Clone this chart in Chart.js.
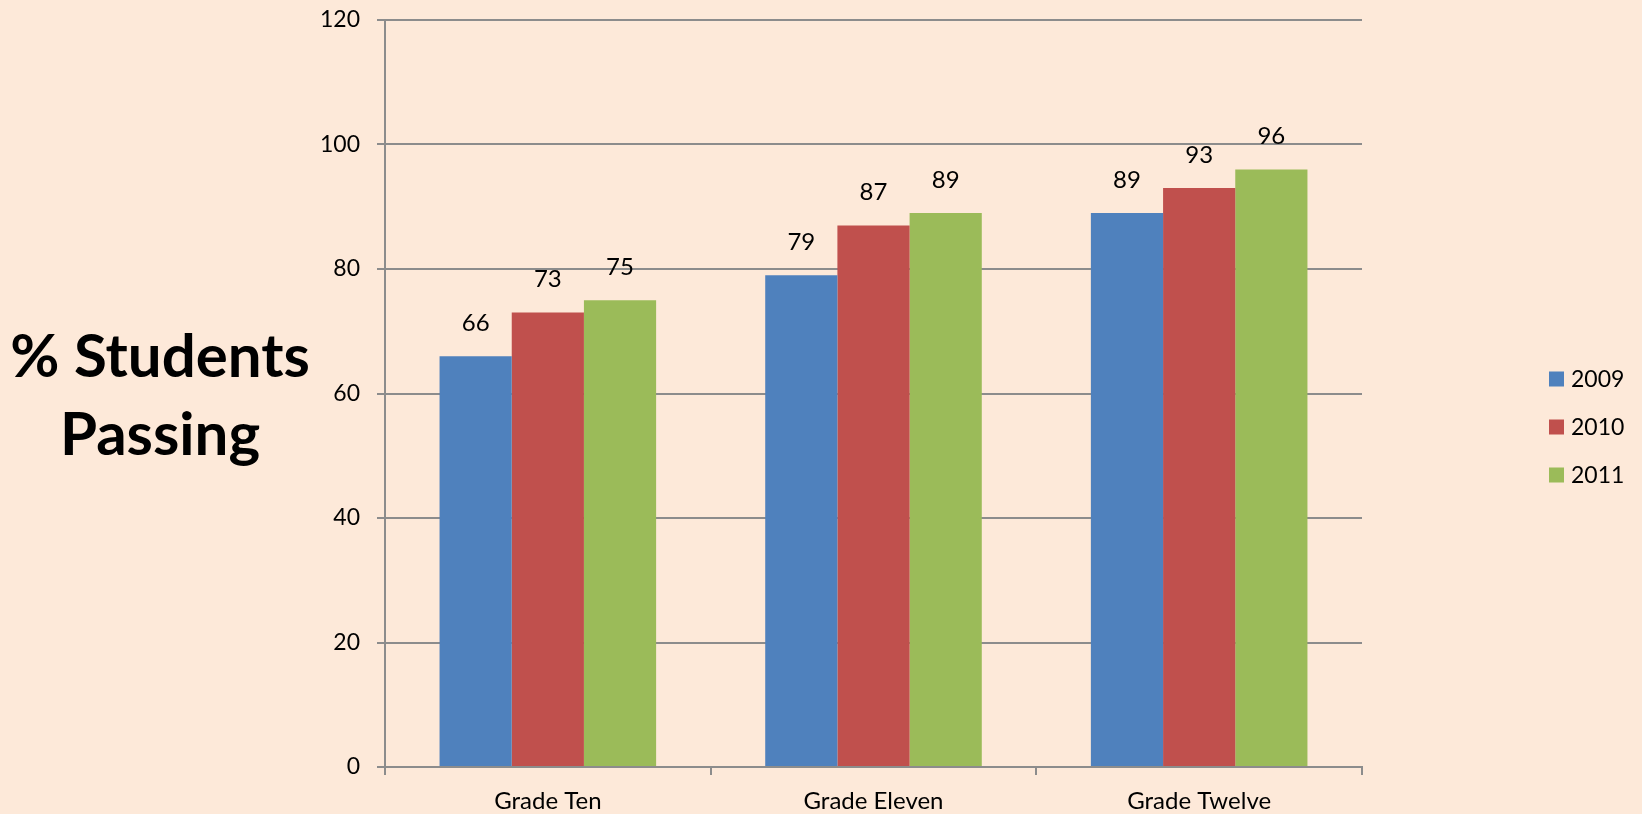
<!DOCTYPE html>
<html>
<head>
<meta charset="utf-8">
<title>% Students Passing</title>
<script src="https://cdn.jsdelivr.net/npm/chart.js@4/dist/chart.umd.min.js"></script>
<style>
    html, body { margin: 0; padding: 0; background: #FDE9D9; }
    #wrap { width: 1642px; height: 814px; position: relative; }
</style>
</head>
<body>
<div id="wrap"><canvas id="passChart"></canvas></div>
<script>
const grades = ['Grade Ten', 'Grade Eleven', 'Grade Twelve'];
const years = ['2009', '2010', '2011'];
const pass2009 = [66, 79, 89];
const pass2010 = [73, 87, 93];
const pass2011 = [75, 89, 96];
const yTicks = [0, 20, 40, 60, 80, 100, 120];

const colors = ['#4F81BD', '#C0504D', '#9BBB59'];
const axisGray = '#8C8C8C';
const textFont = 'Lato, "Open Sans", sans-serif';

// value printed above each bar
const barValues = {
    id: 'barValues',
    afterDatasetsDraw(chart) {
        const ctx = chart.ctx;
        ctx.save();
        ctx.fillStyle = '#000';
        ctx.font = '24px ' + textFont;
        ctx.textAlign = 'center';
        ctx.textBaseline = 'middle';
        chart.data.datasets.forEach((ds, i) => {
            chart.getDatasetMeta(i).data.forEach((bar, j) => {
                ctx.fillText(String(ds.data[j]), bar.x, bar.y - 33);
            });
        });
        ctx.restore();
    }
};

// two-line bold heading on the left and the year key on the right
const sideText = {
    id: 'sideText',
    afterDraw(chart) {
        const ctx = chart.ctx;
        ctx.save();
        ctx.fillStyle = '#000';
        ctx.textAlign = 'center';
        ctx.textBaseline = 'alphabetic';
        ctx.font = 'bold 60px ' + textFont;
        ctx.fillText('% Students', 160, 377);
        ctx.fillText('Passing', 160, 455);

        ctx.font = '23px ' + textFont;
        ctx.textAlign = 'left';
        ctx.textBaseline = 'middle';
        chart.data.datasets.forEach((ds, i) => {
            const cy = 379 + i * 48;
            ctx.fillStyle = ds.backgroundColor;
            ctx.fillRect(1549, cy - 7.5, 15, 15);
            ctx.fillStyle = '#000';
            ctx.fillText(ds.label, 1571, cy + 1);
        });
        ctx.restore();
    }
};

new Chart(document.getElementById('passChart'), {
    type: 'bar',
    data: {
        labels: grades,
        datasets: [pass2009, pass2010, pass2011].map((vals, i) => ({
            label: years[i],
            data: vals,
            backgroundColor: colors[i],
            borderWidth: 0,
            categoryPercentage: 0.665,
            barPercentage: 1.0,
        })),
    },
    options: {
        responsive: true,
        maintainAspectRatio: false,
        animation: false,
        events: [],
        layout: { padding: { left: 300, right: 280, top: 20, bottom: 0 } },
        plugins: {
            legend: { display: false },
            tooltip: { enabled: false },
        },
        scales: {
            x: {
                grid: {
                    drawOnChartArea: false,
                    drawTicks: true,
                    tickLength: 8,
                    color: axisGray,
                    lineWidth: 2,
                },
                border: { color: axisGray, width: 2 },
                ticks: {
                    color: '#000',
                    font: { family: textFont, size: 24 },
                    padding: 12,
                    maxRotation: 0,
                },
                afterFit(scale) {
                    scale.height = 47;
                    scale.paddingLeft = 0;
                    scale.paddingRight = 0;
                },
            },
            y: {
                min: 0,
                max: 120,
                afterBuildTicks(scale) { scale.ticks = yTicks.map((v) => ({ value: v })); },
                grid: {
                    color: axisGray,
                    lineWidth: 2,
                    drawTicks: true,
                    tickLength: 8,
                },
                border: { color: axisGray, width: 2 },
                ticks: {
                    color: '#000',
                    font: { family: textFont, size: 23 },
                    padding: 17,
                },
                afterFit(scale) {
                    scale.width = 85;
                    scale.paddingTop = 0;
                    scale.paddingBottom = 0;
                },
            },
        },
    },
    plugins: [barValues, sideText],
});
</script>
</body>
</html>
